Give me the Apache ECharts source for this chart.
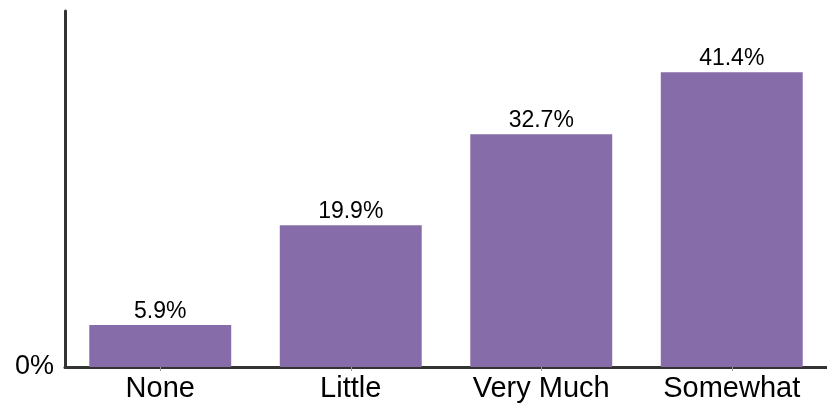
<!DOCTYPE html>
<html><head><meta charset="utf-8">
<script src="https://cdn.jsdelivr.net/npm/echarts@6/dist/echarts.min.js"></script>
<style>html,body{margin:0;padding:0;background:#fff}#c{width:827px;height:408px}</style>
</head><body><div id="c"></div>
<script>
var categories = ["None", "Little", "Very Much", "Somewhat"];
var values = [5.9, 19.9, 32.7, 41.4];
var yTickLabels = ["0%"];

var chart = echarts.init(document.getElementById('c'));
chart.setOption({
  animation: false,
  grid: {left: 65, right: 0, top: 11, bottom: 41},
  xAxis: {
    type: 'category', data: categories,
    axisLine: {lineStyle: {color: '#333', width: 3}},
    axisTick: {show: true, alignWithLabel: true, length: 4, lineStyle: {color: '#999', width: 1}},
    axisLabel: {color: '#000', fontSize: 29, fontFamily: 'Liberation Sans, Arial', margin: 7}
  },
  yAxis: {
    type: 'value', min: 0, max: 50, interval: 50,
    splitLine: {show: false},
    axisLine: {show: true, lineStyle: {color: '#333', width: 3}},
    axisTick: {show: false},
    axisLabel: {color: '#000', fontSize: 27, fontFamily: 'Liberation Sans, Arial', margin: 11,
      formatter: function (v) { return v === 0 ? yTickLabels[0] : ''; }}
  },
  series: [{
    type: 'bar', data: values, barCategoryGap: '25.5%',
    itemStyle: {color: '#866CA8'},
    label: {show: true, position: 'top', distance: 2, color: '#000', fontSize: 23,
      fontFamily: 'Liberation Sans, Arial', formatter: function (p) { return p.value.toFixed(1) + '%'; }}
  }]
});
</script></body></html>
